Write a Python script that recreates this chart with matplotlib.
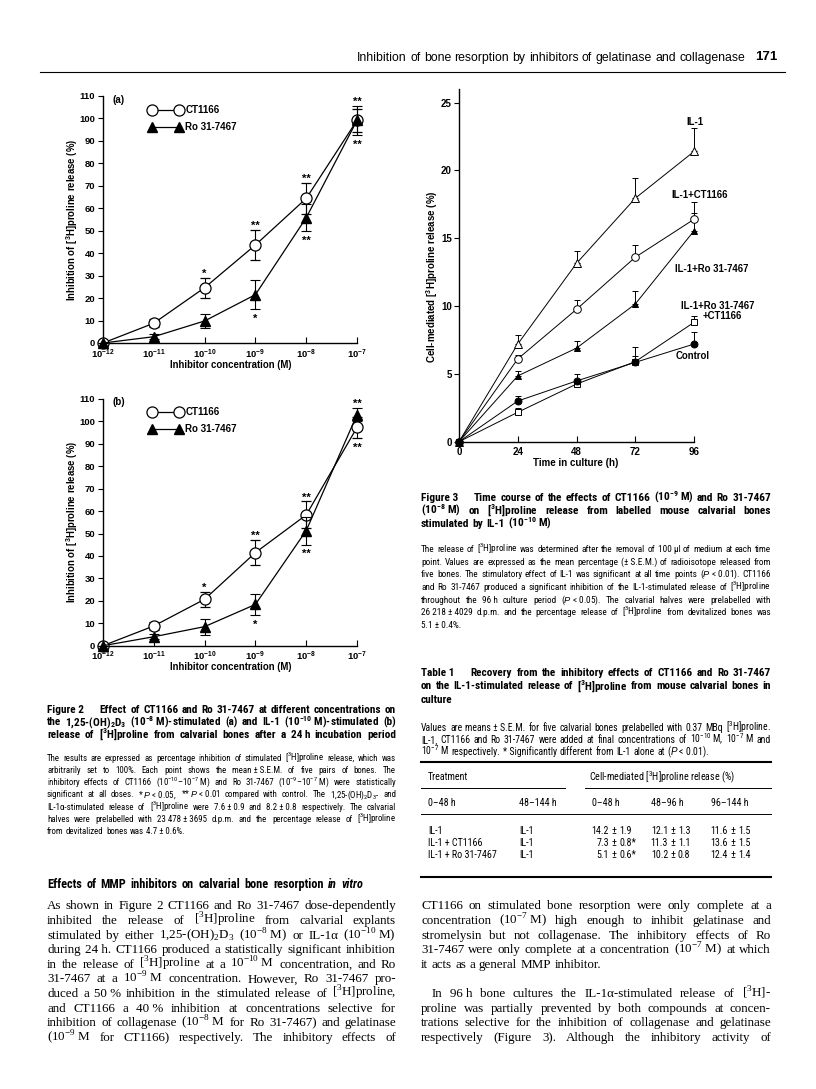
import re
import matplotlib
matplotlib.use("Agg")
import matplotlib.pyplot as plt
from matplotlib import font_manager
from matplotlib.lines import Line2D
from matplotlib.ticker import NullLocator

W, H, DPI = 816, 1089, 100

# ---------------- data ----------------
conc = [1e-12, 1e-11, 1e-10, 1e-9, 1e-8, 1e-7]
conc_exp = [-12, -11, -10, -9, -8, -7]
pct_ticks = [0, 10, 20, 30, 40, 50, 60, 70, 80, 90, 100, 110]

# Figure 2a : 1,25-(OH)2D3 stimulated
a_ct = [0, 8.8, 24.6, 43.6, 64.3, 99.0]
a_ct_err = [0, 1.9, 4.4, 6.6, 7.0, 5.0]
a_ro = [0, 2.8, 9.8, 21.5, 55.7, 99.0]
a_ro_err = [0, 1.2, 3.2, 6.5, 6.0, 6.5]
a_ct_sig = ['', '', '*', '**', '**', '**']
a_ro_sig = ['', '', '', '*', '**', '**']

# Figure 2b : IL-1 stimulated
b_ct = [0, 8.8, 20.7, 41.5, 58.3, 97.3]
b_ct_err = [0, 1.8, 3.4, 5.6, 6.0, 4.5]
b_ro = [0, 4.0, 8.5, 18.4, 51.3, 103.0]
b_ro_err = [0, 1.0, 3.6, 4.6, 6.2, 3.0]
b_ct_sig = ['', '', '*', '**', '**', '**']
b_ro_sig = ['', '', '', '*', '**', '**']

# Figure 3 : time course
hours = [0, 24, 48, 72, 96]
il1 = [0, 7.2, 13.15, 17.95, 21.4]
il1_err = [0, 0.7, 0.9, 1.5, 1.7]
il1_ct = [0, 6.1, 9.76, 13.6, 16.4]
il1_ct_err = [0, 0.3, 0.7, 0.9, 1.3]
il1_ro = [0, 4.85, 6.9, 10.15, 15.55]
il1_ro_err = [0, 0.35, 0.5, 0.95, 1.3]
il1_ro_ct = [0, 2.17, 4.25, 5.9, 8.8]
il1_ro_ct_err = [0, 0.3, 0.25, 0.4, 0.45]
control = [0, 3.0, 4.48, 5.85, 7.2]
control_err = [0, 0.4, 0.5, 1.15, 0.9]
time_ticks = [0, 24, 48, 72, 96]
rel_ticks = [0, 5, 10, 15, 20, 25]

# Table 1
tbl_treat = ['IL-1', 'IL-1`+`CT1166', 'IL-1`+`Ro 31-7467']
tbl_late = ['IL-1', 'IL-1', 'IL-1']
tbl_mean = [['14.2', '12.1', '11.6'], ['7.3', '11.3', '13.6'], ['5.1', '10.2', '12.4']]
tbl_err = [['1.9', '1.3', '1.5'], ['0.8', '1.1', '1.5'], ['0.6', '0.8', '1.4']]
tbl_sig = [['', '', ''], ['*', '', ''], ['*', '', '']]
tbl_sub = ['0–48 h', '48–144 h', '0–48 h', '48–96 h', '96–144 h']

# ---------------- fonts ----------------
names = {f.name for f in font_manager.fontManager.ttflist}


def pick(prefs, default='DejaVu Sans'):
    for p in prefs:
        if p in names:
            return p
    return default


SANS = pick(['Liberation Sans', 'Arimo', 'Roboto'])
NARROW = pick(['Liberation Sans Narrow', 'Roboto Condensed', 'Open Sans Condensed',
               'Noto Sans Condensed', 'Liberation Sans'])
SERIF = pick(['Liberation Serif', 'Tinos', 'DejaVu Serif'])

plt.rcParams.update({
    'font.family': SANS,
    'mathtext.fontset': 'custom',
    'mathtext.rm': SANS,
    'mathtext.it': SANS + ':italic',
    'mathtext.bf': SANS + ':bold',
})

fig = plt.figure(figsize=(W / DPI, H / DPI), dpi=DPI)
fig.patch.set_facecolor('white')
renderer = fig.canvas.get_renderer()
FPX = DPI / 72.0


def markup(s):
    s = s.replace('`', '\u00a0')
    s = re.sub(r'\^\((.*?)\)', lambda m: r'$^{\mathdefault{%s}}$' % m.group(1), s)
    s = re.sub(r'_\((.*?)\)', lambda m: r'$_{\mathdefault{%s}}$' % m.group(1), s)
    s = s.replace('«', r'$\mathit{').replace('»', '}$')
    return s


def fx(x):
    return x / W


def fy(y):
    return 1 - y / H


def hline(x0, x1, y, lw):
    fig.add_artist(Line2D([fx(x0), fx(x1)], [fy(y), fy(y)], color='k', lw=lw,
                          transform=fig.transFigure))


def text_block(lines, x0, x1, ys, fs, family, weight='normal', ragged=(), grow=1.3):
    target = x1 - x0
    fs0 = fs

    def make(fs):
        rows = []
        for line in lines:
            words = []
            for tok in line.split(' '):
                if not tok:
                    continue
                lead = len(tok) - len(tok.lstrip('`'))
                trail = len(tok) - len(tok.rstrip('`'))
                core = tok.strip('`')
                style = 'normal'
                if core.startswith('~'):
                    core, style = core[1:], 'italic'
                t = fig.text(0, 0, markup(core), fontsize=fs, family=family, weight=weight,
                             style=style, ha='left', va='baseline')
                w = t.get_window_extent(renderer).width
                words.append((t, w, lead, trail))
            rows.append(words)
        return rows

    def natural(rows, fs):
        sp = 0.27 * fs * FPX
        return [sum(w + (l + tr) * sp for _, w, l, tr in words) + sp * (len(words) - 1)
                for words in rows]

    rows = make(fs)
    for _ in range(4):
        nat = natural(rows, fs)
        just = [n for i, n in enumerate(nat) if i not in ragged] or nat
        ratio = max(just) / target
        if ratio > 1.0:
            scale = 0.99 / ratio
        elif ratio < 0.94 and fs < fs0 * grow:
            scale = min(0.975 / ratio, fs0 * grow / fs)
        else:
            break
        for words in rows:
            for t, *_ in words:
                t.remove()
        fs *= scale
        rows = make(fs)
    sp = 0.27 * fs * FPX
    for i, (words, yc) in enumerate(zip(rows, ys)):
        base = yc + 0.34 * fs * FPX
        content = sum(w + (l + tr) * sp for _, w, l, tr in words)
        if i in ragged or len(words) < 2:
            gap = sp
        else:
            gap = (target - content) / (len(words) - 1)
        x = x0
        for t, w, l, tr in words:
            x += l * sp
            t.set_position((fx(x), fy(base)))
            x += w + tr * sp + gap
    return fs


def axes_px(x0, ytop, x1, ybot):
    ax = fig.add_axes([fx(x0), fy(ybot), (x1 - x0) / W, (ybot - ytop) / H])
    ax.patch.set_alpha(0)
    for s in ('top', 'right'):
        ax.spines[s].set_visible(False)
    for s in ('left', 'bottom'):
        ax.spines[s].set_linewidth(1.0)
    return ax


def style_ticks(ax, size=6.8):
    for lab in ax.get_xticklabels() + ax.get_yticklabels():
        lab.set_fontweight('bold')
        lab.set_fontsize(size)
        lab.set_family(SANS)


# ---------------- Figure 2 (a) and (b) ----------------
AX_L, AX_R = 103, 357


def dose_chart(ytop, ybot, ct, ct_err, ro, ro_err, ct_sig, ro_sig, tag, leg_top, xlab_y, ylab_y):
    ax = axes_px(AX_L, ytop, AX_R, ybot)
    ax.set_xscale('log')
    ax.set_xlim(conc[0], conc[-1])
    ax.set_ylim(0, 110)
    kw = dict(color='k', lw=0.9, capsize=3.4, elinewidth=0.8, capthick=0.8)
    e_ct = ax.errorbar(conc, ct, yerr=ct_err, marker='o', ms=8, mfc='white', mec='k', mew=0.9,
                       zorder=3, **kw)
    e_ro = ax.errorbar(conc, ro, yerr=ro_err, marker='^', ms=6.5, mfc='k', mec='k', zorder=4, **kw)
    for c in (e_ct, e_ro):
        for art in c.get_children():
            art.set_clip_on(False)
    for i, x in enumerate(conc):
        up = max(ct[i] + ct_err[i], ro[i] + ro_err[i])
        lo = min(ct[i] - ct_err[i], ro[i] - ro_err[i])
        if ct_sig[i]:
            ax.annotate(ct_sig[i], (x, up), xytext=(0, 0.8), textcoords='offset points',
                        ha='center', va='baseline', fontsize=8, weight='bold', family=SANS,
                        annotation_clip=False)
        if ro_sig[i]:
            ax.annotate(ro_sig[i], (x, lo), xytext=(0, -9.2), textcoords='offset points',
                        ha='center', va='baseline', fontsize=8, weight='bold', family=SANS,
                        annotation_clip=False)
    ax.set_xticks(conc, [r'$\mathdefault{10^{%d}}$' % e for e in conc_exp])
    ax.xaxis.set_minor_locator(NullLocator())
    ax.set_yticks(pct_ticks)
    ax.tick_params(axis='x', direction='in', length=4, width=0.8, pad=3.2)
    ax.tick_params(axis='y', direction='out', length=3.5, width=0.8, pad=2.2)
    style_ticks(ax)
    h_ct = Line2D([], [], color='k', lw=0.9, marker='o', ms=8, mfc='white', mec='k', mew=0.9)
    h_ro = Line2D([], [], color='k', lw=0.9, marker='^', ms=6.5, mfc='k', mec='k')
    ax.legend([h_ct, h_ro], ['CT1166', 'Ro 31-7467'], numpoints=2, handlelength=3.4,
              handletextpad=0.35, labelspacing=0.75, frameon=False, loc='upper left',
              bbox_to_anchor=(fx(149), fy(leg_top)), bbox_transform=fig.transFigure,
              borderpad=0, borderaxespad=0,
              prop=dict(family=SANS, weight='bold', size=7))
    fig.text(fx(119), fy(leg_top - 5), tag, ha='center', va='center', fontsize=7,
             weight='bold', family=SANS)
    fig.text(fx(231), fy(xlab_y), 'Inhibitor concentration (M)', ha='center', va='center',
             fontsize=6.9, weight='bold', family=SANS)
    fig.text(fx(72), fy(ylab_y), markup('Inhibition of [^(3)H]proline release (%)'),
             ha='center', va='center', rotation=90, fontsize=6.9, weight='bold', family=SANS)
    return ax


dose_chart(95.7, 343, a_ct, a_ct_err, a_ro, a_ro_err, a_ct_sig, a_ro_sig, '(a)', 105, 365, 220)
dose_chart(399, 645.7, b_ct, b_ct_err, b_ro, b_ro_err, b_ct_sig, b_ro_sig, '(b)', 407, 667, 522)

# ---------------- Figure 3 ----------------
ax3 = axes_px(459, 89.1, 694, 441.7)
ax3.set_xlim(0, 96)
ax3.set_ylim(0, 26)
series3 = [
    (il1, il1_err, '^', 'white', 5.5),
    (il1_ct, il1_ct_err, 'o', 'white', 5.5),
    (il1_ro, il1_ro_err, '^', 'k', 5.0),
    (il1_ro_ct, il1_ro_ct_err, 's', 'white', 4.6),
    (control, control_err, 'o', 'k', 5.0),
]
for vals, errs, m, fc, ms in series3:
    c = ax3.errorbar(hours, vals, yerr=[[0] * len(errs), errs], fmt='none', ecolor='k',
                     elinewidth=0.7, capsize=2.0, capthick=0.7, zorder=2)
    for art in c.get_children():
        art.set_clip_on(False)
    ax3.plot(hours, vals, color='k', lw=0.7, marker=m, ms=ms, mfc=fc, mec='k', mew=0.7,
             zorder=3, clip_on=False)

lab_kw = dict(ha='center', va='center', fontsize=6.9, weight='bold', family=SANS, clip_on=False)
ax3.text(96.4, 23.6, 'IL-1', **lab_kw)
ax3.text(98.4, 18.2, 'IL-1+CT1166', **lab_kw)
ax3.text(103.2, 12.7, 'IL-1+Ro 31-7467', **lab_kw)
ax3.text(105.8, 10.0, 'IL-1+Ro 31-7467', **lab_kw)
ax3.text(107.6, 9.3, '+CT1166', **lab_kw)
ax3.text(95.6, 6.3, 'Control', **lab_kw)
ax3.set_xticks(time_ticks)
ax3.set_yticks(rel_ticks)
ax3.tick_params(axis='x', direction='in', length=4, width=0.8, pad=3.5)
ax3.tick_params(axis='y', direction='out', length=3.5, width=0.8, pad=1.8)
style_ticks(ax3, 7)
fig.text(fx(576), fy(463.3), 'Time in culture (h)', ha='center', va='center', fontsize=7,
         weight='bold', family=SANS)
fig.text(fx(432), fy(277), markup('Cell-mediated [^(3)H]proline release (%)'), ha='center',
         va='center', rotation=90, fontsize=7, weight='bold', family=SANS)

# ---------------- page header ----------------
text_block(['Inhibition of bone resorption by inhibitors of gelatinase and collagenase'],
           357, 745, [57], 9.4, SANS)
fig.text(fx(766), fy(57), '171', ha='center', va='center', fontsize=9.5, weight='bold',
         family=SANS)
hline(40, 785, 72, 0.8)

# ---------------- captions and text ----------------
LC0, LC1 = 47, 396
RC0, RC1 = 421, 771

fig2_title = [
    "Figure`2```` Effect of CT1166 and Ro 31-7467 at different concentrations on",
    "the 1,25-(OH)_(2)D_(3) (10^(-8)`M)-stimulated (a) and IL-1 (10^(-10)`M)-stimulated (b)",
    "release of [^(3)H]proline from calvarial bones after a 24`h incubation period",
]
text_block(fig2_title, LC0, LC1, [709, 721.5, 734], 8.8, NARROW, 'bold')

fig2_body = [
    "The results are expressed as percentage inhibition of stimulated [^(3)H]proline release, which was",
    "arbitrarily set to 100%. Each point shows the mean`±`S.E.M. of five pairs of bones. The",
    "inhibitory effects of CT1166 (10^(-10)–10^(-7)`M) and Ro 31-7467 (10^(-9)–10^(-7)`M) were statistically",
    "significant at all doses. *`«P»`<`0.05, **`«P»`<`0.01 compared with control. The 1,25-(OH)_(2)D_(3)- and",
    "IL-1α-stimulated release of [^(3)H]proline were 7.6`±`0.9 and 8.2`±`0.8 respectively. The calvarial",
    "halves were prelabelled with 23`478`±`3695 d.p.m. and the percentage release of [^(3)H]proline",
    "from devitalized bones was 4.7`±`0.6%.",
]
text_block(fig2_body, LC0, LC1, [758 + 12.15 * i for i in range(7)], 7.2, NARROW, ragged={6})

text_block(["Effects of MMP inhibitors on calvarial bone resorption ~in ~vitro"],
           LC0, 363, [884], 8.8, NARROW, 'bold')

left_body = [
    "As shown in Figure 2 CT1166 and Ro 31-7467 dose-dependently",
    "inhibited the release of [^(3)H]proline from calvarial explants",
    "stimulated by either 1,25-(OH)_(2)D_(3) (10^(-8)`M) or IL-1α (10^(-10)`M)",
    "during 24`h. CT1166 produced a statistically significant inhibition",
    "in the release of [^(3)H]proline at a 10^(-10)`M concentration, and Ro",
    "31-7467 at a 10^(-9)`M concentration. However, Ro 31-7467 pro-",
    "duced a 50`% inhibition in the stimulated release of [^(3)H]proline,",
    "and CT1166 a 40`% inhibition at concentrations selective for",
    "inhibition of collagenase (10^(-8)`M for Ro 31-7467) and gelatinase",
    "(10^(-9)`M for CT1166) respectively. The inhibitory effects of",
]
text_block(left_body, LC0, LC1, [905 + 14.6 * i for i in range(10)], 9.4, SERIF)

fig3_title = [
    "Figure`3```` Time course of the effects of CT1166 (10^(-9)`M) and Ro 31-7467",
    "(10^(-8)`M) on [^(3)H]proline release from labelled mouse calvarial bones",
    "stimulated by IL-1 (10^(-10)`M)",
]
text_block(fig3_title, RC0, RC1, [497, 510, 523], 8.8, NARROW, 'bold', ragged={2})

fig3_body = [
    "The release of [^(3)H]proline was determined after the removal of 100`µl of medium at each time",
    "point. Values are expressed as the mean percentage (±`S.E.M.) of radioisotope released from",
    "five bones. The stimulatory effect of IL-1 was significant at all time points («P»`<`0.01). CT1166",
    "and Ro 31-7467 produced a significant inhibition of the IL-1-stimulated release of [^(3)H]proline",
    "throughout the 96`h culture period («P»`<`0.05). The calvarial halves were prelabelled with",
    "26`218`±`4029 d.p.m. and the percentage release of [^(3)H]proline from devitalized bones was",
    "5.1`±`0.4%.",
]
text_block(fig3_body, RC0, RC1, [549 + 12.6 * i for i in range(7)], 7.2, NARROW, ragged={6})

tbl_title = [
    "Table`1```` Recovery from the inhibitory effects of CT1166 and Ro 31-7467",
    "on the IL-1-stimulated release of [^(3)H]proline from mouse calvarial bones in",
    "culture",
]
text_block(tbl_title, RC0, RC1, [672, 685.5, 699], 8.8, NARROW, 'bold', ragged={2})

tbl_body = [
    "Values are means`±`S.E.M. for five calvarial bones prelabelled with 0.37 MBq [^(3)H]proline.",
    "IL-1, CT1166 and Ro 31-7467 were added at final concentrations of 10^(-10)`M, 10^(-7)`M and",
    "10^(-7)`M respectively. *`Significantly different from IL-1 alone at («P»`<`0.01).",
]
text_block(tbl_body, RC0, RC1, [728, 740, 752], 7.2, NARROW, ragged={2})

right_body = [
    "CT1166 on stimulated bone resorption were only complete at a",
    "concentration (10^(-7)`M) high enough to inhibit gelatinase and",
    "stromelysin but not collagenase. The inhibitory effects of Ro",
    "31-7467 were only complete at a concentration (10^(-7)`M) at which",
    "it acts as a general MMP inhibitor.",
    "```In 96`h bone cultures the IL-1α-stimulated release of [^(3)H]-",
    "proline was partially prevented by both compounds at concen-",
    "trations selective for the inhibition of collagenase and gelatinase",
    "respectively (Figure 3). Although the inhibitory activity of",
]
rb_rows = [0, 1, 2, 3, 4, 6, 7, 8, 9]
text_block(right_body, RC0, RC1, [905 + 14.6 * i for i in rb_rows], 9.4, SERIF, ragged={4})

# ---------------- Table 1 ----------------
TFS = 7.2
hline(RC0, RC1, 762, 1.5)
fig.text(fx(428), fy(777), 'Treatment', ha='left', va='center', fontsize=TFS, family=NARROW)
fig.text(fx(589), fy(777), markup('Cell-mediated [^(3)H]proline release (%)'), ha='left',
         va='center', fontsize=TFS, family=NARROW)
hline(RC0, 565, 788, 0.7)
hline(585, RC1, 788, 0.7)
sub_x = [428, 519, 592, 651, 711]
for x, s in zip(sub_x, tbl_sub):
    fig.text(fx(x), fy(803), s, ha='left', va='center', fontsize=TFS, family=NARROW)
hline(RC0, RC1, 814, 0.7)
row_y = [831, 843, 855]
for r, y in enumerate(row_y):
    fig.text(fx(428), fy(y), markup(tbl_treat[r]), ha='left', va='center', fontsize=TFS,
             family=NARROW)
    fig.text(fx(519), fy(y), tbl_late[r], ha='left', va='center', fontsize=TFS, family=NARROW)
    for c in range(3):
        xc = sub_x[2 + c]
        fig.text(fx(xc + 17), fy(y), tbl_mean[r][c], ha='right', va='center', fontsize=TFS,
                 family=NARROW)
        fig.text(fx(xc + 22), fy(y), '±', ha='center', va='center', fontsize=TFS + 0.5,
                 family=NARROW)
        fig.text(fx(xc + 27), fy(y), tbl_err[r][c] + tbl_sig[r][c], ha='left', va='center',
                 fontsize=TFS, family=NARROW)
hline(RC0, RC1, 877, 1.5)

fig.savefig('out.png', dpi=DPI, facecolor='white')
